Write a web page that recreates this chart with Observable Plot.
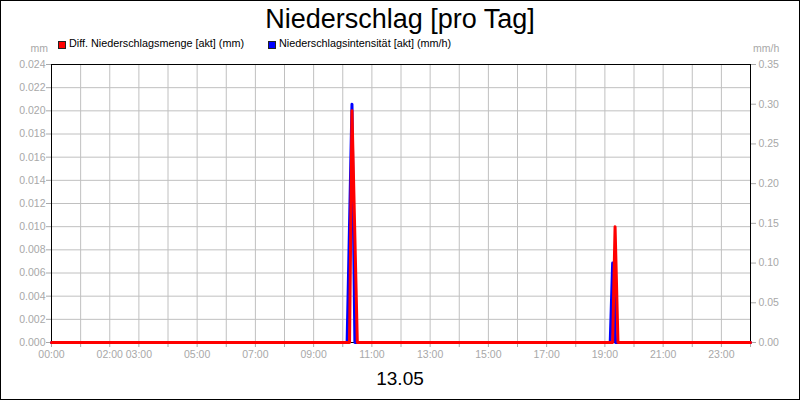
<!DOCTYPE html>
<html>
<head>
<meta charset="utf-8">
<script src="https://cdn.jsdelivr.net/npm/d3@7"></script>
<script src="https://cdn.jsdelivr.net/npm/@observablehq/plot@0.6"></script>
<style>
  body { margin: 0; background: #fff; font-family: "Liberation Sans", Arial, sans-serif; }
  #wrap { position: relative; width: 800px; height: 400px; overflow: hidden; background: #fff; }
  #chart { position: absolute; left: 0; top: 0; }
  #border { position: absolute; left: 0; top: 0; width: 800px; height: 400px; box-sizing: border-box; border: 1px solid #000; pointer-events: none; }
  .t { position: absolute; line-height: 1; white-space: nowrap; }
  #title { left: 0; width: 800px; top: 6px; text-align: center; font-size: 27px; color: #000; }
  #date { left: 0; width: 800px; top: 369px; text-align: center; font-size: 19px; color: #000; }
  .unit { font-size: 10.5px; color: #a8a8a8; top: 43px; }
  .leg { font-size: 10.8px; color: #000; top: 38px; }
  .sw { position: absolute; width: 6px; height: 6px; border: 1px solid #222; top: 41px; }
</style>
</head>
<body>
<div id="wrap">
  <div id="chart"></div>
  <div id="title" class="t"></div>
  <div id="legend"></div>
  <div id="unitL" class="t unit" style="right:752px;"></div>
  <div id="unitR" class="t unit" style="left:753px;"></div>
  <div id="date" class="t"></div>
  <div id="border"></div>
</div>
<script>
// ---- data ----
const titleText = "Niederschlag [pro Tag]";
const dateText = "13.05";
const seriesNames = ["Diff. Niederschlagsmenge [akt] (mm)", "Niederschlagsintensität [akt] (mm/h)"];
const seriesColors = ["#ff0000", "#0000ff"];
const unitLeft = "mm";
const unitRight = "mm/h";

// Diff. Niederschlagsmenge (mm), left axis
const mengeTimes  = ["00:00", "10:14", "10:19", "10:30", "19:16", "19:21", "19:27", "24:00"];
const mengeValues = [0,       0,       0.020,   0,       0,       0.010,   0,       0];

// Niederschlagsintensität (mm/h), right axis
const intensTimes  = ["00:00", "10:09", "10:19", "10:25", "19:11", "19:16", "19:18", "19:22", "24:00"];
const intensValues = [0,       0,       0.30,    0,       0,       0.10,    0.10,    0,       0];

const leftTicks  = [0, 0.002, 0.004, 0.006, 0.008, 0.010, 0.012, 0.014, 0.016, 0.018, 0.020, 0.022, 0.024];
const rightTicks = [0, 0.05, 0.10, 0.15, 0.20, 0.25, 0.30, 0.35];
const hourTicks  = [0,1,2,3,4,5,6,7,8,9,10,11,12,13,14,15,16,17,18,19,20,21,22,23,24];
const xTickLabels = ["00:00","02:00","03:00","05:00","07:00","09:00","11:00","13:00","15:00","17:00","19:00","21:00","23:00"];

const leftMax = 0.024, rightMax = 0.35;

// ---- build ----
const toH = s => { const [h, m] = s.split(":").map(Number); return h + m / 60; };
const fmtH = h => String(h).padStart(2, "0") + ":00";
const menge = mengeTimes.map((t, i) => ({h: toH(t), v: mengeValues[i]}));
const intens = intensTimes.map((t, i) => ({h: toH(t), v: intensValues[i] * leftMax / rightMax}));
const rightPos = rightTicks.map(v => v * leftMax / rightMax);

const chart = Plot.plot({
  width: 800, height: 400,
  marginLeft: 51, marginRight: 50, marginTop: 64, marginBottom: 58,
  style: {fontFamily: "'Liberation Sans', Arial, sans-serif", fontSize: "10.5px", background: "transparent", overflow: "visible"},
  x: {domain: [0, 24], label: null},
  y: {domain: [0, leftMax], label: null},
  marks: [
    Plot.gridX(hourTicks, {stroke: "#c0c0c0", strokeOpacity: 1}),
    Plot.gridY(leftTicks, {stroke: "#c0c0c0", strokeOpacity: 1}),
    Plot.axisX(hourTicks, {
      anchor: "bottom", label: null, tickSize: 5, tickPadding: 3, color: "#a8a8a8", fontSize: 10.5,
      tickFormat: h => xTickLabels.includes(fmtH(h)) ? fmtH(h) : ""
    }),
    Plot.axisY(leftTicks, {
      anchor: "left", label: null, tickSize: 5, tickPadding: 1, color: "#a8a8a8", fontSize: 10.5,
      tickFormat: d => d.toFixed(3)
    }),
    Plot.axisY(rightPos, {
      anchor: "right", label: null, tickSize: 5, tickPadding: 3, color: "#a8a8a8", fontSize: 10.5,
      tickFormat: d => (d * rightMax / leftMax).toFixed(2)
    }),
    Plot.frame({stroke: "#000"}),
    Plot.lineY(intens, {x: "h", y: "v", stroke: seriesColors[1], strokeWidth: 3}),
    Plot.lineY(menge, {x: "h", y: "v", stroke: seriesColors[0], strokeWidth: 3})
  ]
});
document.getElementById("chart").appendChild(chart);

document.getElementById("title").textContent = titleText;
document.getElementById("date").textContent = dateText;
document.getElementById("unitL").textContent = unitLeft;
document.getElementById("unitR").textContent = unitRight;

const legend = document.getElementById("legend");
const legX = [58, 268];
seriesNames.forEach((name, i) => {
  const sw = document.createElement("div");
  sw.className = "sw";
  sw.style.left = legX[i] + "px";
  sw.style.background = seriesColors[i];
  legend.appendChild(sw);
  const tx = document.createElement("div");
  tx.className = "t leg";
  tx.style.left = (legX[i] + 11) + "px";
  tx.textContent = name;
  legend.appendChild(tx);
});
</script>
</body>
</html>
